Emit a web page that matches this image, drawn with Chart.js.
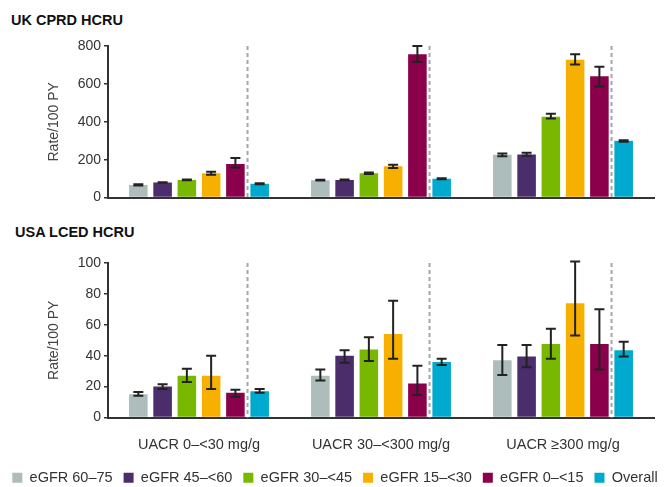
<!DOCTYPE html>
<html>
<head>
<meta charset="utf-8">
<script src="https://cdn.jsdelivr.net/npm/chart.js@4.4.0/dist/chart.umd.min.js"></script>
<style>
  body { margin: 0; background: #fff; font-family: "Liberation Sans", Arial, sans-serif; overflow: hidden; }
  #wrap { position: relative; width: 670px; height: 487px; overflow: hidden; }
  .ptitle { position: absolute; font-weight: bold; font-size: 14.5px; color: #111; line-height: 16px; }
  canvas { position: absolute; left: 0; }
</style>
</head>
<body>
<div id="wrap">
  <div class="ptitle" style="left:11px; top:12px;">UK CPRD HCRU</div>
  <canvas id="ukChart" width="670" height="209" style="top:0px;"></canvas>
  <div class="ptitle" style="left:15px; top:224px;">USA LCED HCRU</div>
  <canvas id="usChart" width="670" height="255" style="top:240px;"></canvas>
</div>

<script>
// categories / series
var categories = ['UACR 0\u2013<30 mg/g', 'UACR 30\u2013<300 mg/g', 'UACR \u2265300 mg/g'];
var seriesNames = ['eGFR 60\u201375', 'eGFR 45\u2013<60', 'eGFR 30\u2013<45', 'eGFR 15\u2013<30', 'eGFR 0\u2013<15', 'Overall'];
var seriesColors = ['#adbdbb', '#4b2d6b', '#78b800', '#f8b000', '#8a004a', '#00a9ce'];

// UK CPRD HCRU, rate/100 PY (one value per UACR group)
var uk6075 = [67, 92, 226];
var uk4560 = [80, 93, 228];
var uk3045 = [93, 128, 427];
var uk1530 = [129, 166, 728];
var uk0015 = [177, 757, 640];
var ukAll  = [73, 99, 300];
// 95% CI [low, high]
var uk6075Ci = [[64, 71], [90, 94], [218, 233]];
var uk4560Ci = [[78, 81], [91, 96], [221, 237]];
var uk3045Ci = [[91, 96], [125, 132], [418, 443]];
var uk1530Ci = [[120, 137], [156, 174], [702, 757]];
var uk0015Ci = [[159, 209], [715, 800], [586, 690]];
var ukAllCi  = [[70, 76], [97, 102], [295, 303]];

// USA LCED HCRU, rate/100 PY
var us6075 = [15, 27, 37];
var us4560 = [20, 40, 39.5];
var us3045 = [27, 44, 47.5];
var us1530 = [27, 54, 74];
var us0015 = [16, 22, 47.5];
var usAll  = [17, 36, 43.5];
var us6075Ci = [[14, 16.5], [24, 31], [27.5, 47]];
var us4560Ci = [[18.5, 21.5], [35.5, 43.5], [32.5, 47]];
var us3045Ci = [[23, 31.5], [36.5, 52], [38, 57.5]];
var us1530Ci = [[18.5, 40], [38, 75.5], [53, 101]];
var us0015Ci = [[13.5, 18], [14.5, 33.5], [31, 70]];
var usAllCi  = [[16, 18.5], [34, 38], [39.5, 49]];

var ukTicks = {max: 800, step: 200};
var usTicks = {max: 100, step: 20};

Chart.defaults.font.family = '"Liberation Sans", Arial, sans-serif';
Chart.defaults.color = '#333';

// draws CI whiskers and the dashed divider before "Overall"
var extrasPlugin = {
    id: 'extras',
    afterDatasetsDraw: function(chart) {
        var ctx = chart.ctx;
        var yScale = chart.scales.y;
        var area = chart.chartArea;
        ctx.save();
        ctx.strokeStyle = '#222';
        ctx.lineWidth = 2;
        chart.data.datasets.forEach(function(ds, di) {
            var meta = chart.getDatasetMeta(di);
            meta.data.forEach(function(bar, i) {
                var ci = ds.ci[i];
                var lo = yScale.getPixelForValue(ci[0]);
                var hi = yScale.getPixelForValue(ci[1]);
                ctx.beginPath();
                ctx.moveTo(bar.x, lo); ctx.lineTo(bar.x, hi);
                ctx.moveTo(bar.x - 5, lo); ctx.lineTo(bar.x + 5, lo);
                ctx.moveTo(bar.x - 5, hi); ctx.lineTo(bar.x + 5, hi);
                ctx.stroke();
            });
        });
        var m4 = chart.getDatasetMeta(4), m5 = chart.getDatasetMeta(5);
        ctx.strokeStyle = '#a6a6a6';
        ctx.setLineDash([4, 3]);
        m4.data.forEach(function(bar, i) {
            var x = (bar.x + m5.data[i].x) / 2;
            ctx.beginPath();
            ctx.moveTo(x, area.top); ctx.lineTo(x, area.bottom);
            ctx.stroke();
        });
        ctx.restore();
    }
};

function buildDatasets(values, cis) {
    return seriesNames.map(function(name, k) {
        return {
            label: name,
            data: values[k],
            ci: cis[k],
            backgroundColor: seriesColors[k],
            borderWidth: 0,
            categoryPercentage: 0.8,
            barPercentage: 0.765
        };
    });
}

function makeChart(id, values, cis, ticks, isBottom) {
    var ctx = document.getElementById(id).getContext('2d');
    return new Chart(ctx, {
        type: 'bar',
        data: { labels: categories, datasets: buildDatasets(values, cis) },
        options: {
            responsive: false,
            animation: false,
            layout: { padding: { left: 0, right: 0, top: isBottom ? 23 : 46, bottom: 0 } },
            plugins: {
                tooltip: { enabled: false },
                legend: {
                    display: isBottom,
                    position: 'bottom',
                    labels: {
                        boxWidth: 10, boxHeight: 10, padding: 11,
                        color: '#333',
                        font: { size: 14.5 }
                    }
                }
            },
            scales: {
                x: {
                    grid: { display: false, drawTicks: false },
                    border: { display: true, color: '#333', width: 2 },
                    ticks: { display: isBottom, padding: 19, color: '#333', font: { size: 14.5 } },
                    afterFit: function(s) { s.height = isBottom ? 42 : 10; }
                },
                y: {
                    min: 0,
                    max: ticks.max,
                    ticks: { stepSize: ticks.step, padding: 3, color: '#333', font: { size: 14 } },
                    grid: { display: true, drawOnChartArea: false, drawTicks: true, tickLength: 4, color: '#333', lineWidth: 1.5 },
                    border: { display: true, color: '#333', width: 2 },
                    title: { display: true, text: 'Rate/100 PY', color: '#444', font: { size: 14 }, padding: { top: 46, bottom: 0 } },
                    afterFit: function(s) { s.width = 108; }
                },
                // empty right-hand spacer so the plot ends near x=654
                yPad: {
                    position: 'right',
                    display: true,
                    ticks: { display: false },
                    grid: { display: false, drawTicks: false },
                    border: { display: false },
                    afterFit: function(s) { s.width = 16; }
                }
            }
        },
        plugins: [extrasPlugin]
    });
}

makeChart('ukChart',
    [uk6075, uk4560, uk3045, uk1530, uk0015, ukAll],
    [uk6075Ci, uk4560Ci, uk3045Ci, uk1530Ci, uk0015Ci, ukAllCi],
    ukTicks, false);

makeChart('usChart',
    [us6075, us4560, us3045, us1530, us0015, usAll],
    [us6075Ci, us4560Ci, us3045Ci, us1530Ci, us0015Ci, usAllCi],
    usTicks, true);
</script>
</body>
</html>
